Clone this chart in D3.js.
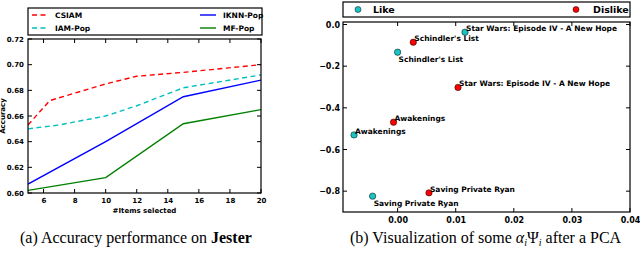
<!DOCTYPE html>
<html>
<head>
<meta charset="utf-8">
<script src="https://cdn.jsdelivr.net/npm/d3@7"></script>
<style>
  body { margin: 0; background: #fff; }
  svg { display: block; }
  .tick text { font-family: "DejaVu Sans", sans-serif; font-weight: bold; }
  .cap { font-family: "Liberation Serif", "Times New Roman", serif; font-size: 16px; }
</style>
</head>
<body>
<svg id="chart" width="640" height="253"></svg>
<script>
// Left panel: accuracy vs #items selected
const itemsCSIAM = [5, 6.4, 10, 12, 15, 20]
const accCSIAM = [0.653, 0.672, 0.685, 0.691, 0.694, 0.700]
const itemsIAM = [5, 7, 10, 12, 15, 20]
const accIAM = [0.650, 0.653, 0.660, 0.668, 0.682, 0.692]
const itemsIKNN = [5, 10, 15, 20]
const accIKNN = [0.607, 0.640, 0.675, 0.688]
const itemsMF = [5, 10, 15, 20]
const accMF = [0.602, 0.612, 0.654, 0.665]
const leftXTicks = [6, 8, 10, 12, 14, 16, 18, 20]
const leftYTicks = [0.60, 0.62, 0.64, 0.66, 0.68, 0.70, 0.72]

// Right panel: PCA projection
const movies = ["Star Wars: Episode IV - A New Hope", "Schindler's List", "Awakenings", "Saving Private Ryan"]
const likeX = [0.0116, 0.0000, -0.0075, -0.0043]
const likeY = [-0.037, -0.133, -0.530, -0.824]
const dislikeX = [0.0104, 0.0027, -0.0007, 0.0054]
const dislikeY = [-0.302, -0.085, -0.469, -0.808]
const likeBelow = [false, true, false, true]
const rightXTicks = [0.00, 0.01, 0.02, 0.03, 0.04]
const rightYTicks = [0.0, -0.2, -0.4, -0.6, -0.8]

const svg = d3.select("#chart")
const font = '"DejaVu Sans", sans-serif'

function innerTicks(g, x, y, xt, yt, w, h) {
  // matplotlib-style ticks pointing inwards on all four sides
  xt.forEach(function(t) {
    g.append("line").attr("x1", x(t)).attr("x2", x(t)).attr("y1", h).attr("y2", h - 4).attr("stroke", "#000")
    g.append("line").attr("x1", x(t)).attr("x2", x(t)).attr("y1", 0).attr("y2", 4).attr("stroke", "#000")
  })
  yt.forEach(function(t) {
    g.append("line").attr("x1", 0).attr("x2", 4).attr("y1", y(t)).attr("y2", y(t)).attr("stroke", "#000")
    g.append("line").attr("x1", w).attr("x2", w - 4).attr("y1", y(t)).attr("y2", y(t)).attr("stroke", "#000")
  })
}

// ---------- left ----------
const L = {left: 28, top: 39, w: 233, h: 154}
const gl = svg.append("g").attr("transform", "translate(" + L.left + "," + L.top + ")")
const xl = d3.scaleLinear().domain([5, 20]).range([0, L.w])
const yl = d3.scaleLinear().domain([0.60, 0.72]).range([L.h, 0])

gl.append("g").attr("transform", "translate(0," + L.h + ")")
  .call(d3.axisBottom(xl).tickValues(leftXTicks).tickSize(0).tickPadding(5).tickFormat(d3.format("d")))
  .call(g => g.select(".domain").remove())
  .selectAll("text").attr("font-size", 7)
gl.append("g")
  .call(d3.axisLeft(yl).tickValues(leftYTicks).tickSize(0).tickPadding(4).tickFormat(d3.format(".2f")))
  .call(g => g.select(".domain").remove())
  .selectAll("text").attr("font-size", 7)

const seriesL = [
  {name: "CSIAM", xs: itemsCSIAM, ys: accCSIAM, color: "#ff0000", dash: "5,3.5"},
  {name: "IAM-Pop", xs: itemsIAM, ys: accIAM, color: "#00bfbf", dash: "5,3.5"},
  {name: "IKNN-Pop", xs: itemsIKNN, ys: accIKNN, color: "#0000ff", dash: null},
  {name: "MF-Pop", xs: itemsMF, ys: accMF, color: "#008000", dash: null}
]
const line = d3.line().x(d => xl(d[0])).y(d => yl(d[1]))
gl.append("clipPath").attr("id", "clipL").append("rect").attr("width", L.w).attr("height", L.h)
seriesL.forEach(function(s) {
  gl.append("path")
    .datum(s.xs.map((v, i) => [v, s.ys[i]]))
    .attr("d", line)
    .attr("fill", "none")
    .attr("stroke", s.color)
    .attr("stroke-width", 1.4)
    .attr("stroke-dasharray", s.dash)
    .attr("clip-path", "url(#clipL)")
})
innerTicks(gl, xl, yl, leftXTicks, leftYTicks, L.w, L.h)
gl.append("rect").attr("width", L.w).attr("height", L.h).attr("fill", "none").attr("stroke", "#000").attr("stroke-width", 1.2)

gl.append("text").attr("x", L.w / 2).attr("y", L.h + 20).attr("text-anchor", "middle")
  .attr("font-family", font).attr("font-size", 7).attr("font-weight", "bold").text("#Items selected")
svg.append("text").attr("transform", "translate(5,116) rotate(-90)").attr("text-anchor", "middle")
  .attr("font-family", font).attr("font-size", 7).attr("font-weight", "bold").text("Accuracy")

// legend left
const legL = svg.append("g").attr("transform", "translate(28,8)")
legL.append("rect").attr("width", 234).attr("height", 27).attr("fill", "#fff").attr("stroke", "#000").attr("stroke-width", 1.2)
seriesL.forEach(function(s, i) {
  const lx = i < 2 ? 4 : 172
  const ly = i % 2 === 0 ? 7 : 20
  legL.append("line").attr("x1", lx).attr("x2", lx + 16).attr("y1", ly).attr("y2", ly)
    .attr("stroke", s.color).attr("stroke-width", 1.4).attr("stroke-dasharray", s.dash)
  legL.append("text").attr("x", lx + 23).attr("y", ly + 3).attr("font-family", font)
    .attr("font-size", 7.5).attr("font-weight", "bold").text(s.name)
})

svg.append("text").attr("class", "cap").attr("x", 20).attr("y", 243)
  .html('(a) Accuracy performance on <tspan font-weight="bold">Jester</tspan>')

// ---------- right ----------
const R = {left: 343, top: 22, w: 287, h: 190}
const gr = svg.append("g").attr("transform", "translate(" + R.left + "," + R.top + ")")
const xr = d3.scaleLinear().domain([-0.0094, 0.04]).range([0, R.w])
const yr = d3.scaleLinear().domain([-0.9, 0.012]).range([R.h, 0])

gr.append("g").attr("transform", "translate(0," + R.h + ")")
  .call(d3.axisBottom(xr).tickValues(rightXTicks).tickSize(0).tickPadding(5).tickFormat(d3.format(".2f")))
  .call(g => g.select(".domain").remove())
  .selectAll("text").attr("font-size", 8)
gr.append("g")
  .call(d3.axisLeft(yr).tickValues(rightYTicks).tickSize(0).tickPadding(3).tickFormat(d => d3.format(".1f")(d).replace("-", "\u2212")))
  .call(g => g.select(".domain").remove())
  .selectAll("text").attr("font-size", 8)

innerTicks(gr, xr, yr, rightXTicks, rightYTicks, R.w, R.h)
gr.append("rect").attr("width", R.w).attr("height", R.h).attr("fill", "none").attr("stroke", "#000").attr("stroke-width", 1.2)

const likeColor = "#1cc3c3"
const dislikeColor = "#ff0000"
function drawPoints(xs, ys, color, below) {
  xs.forEach(function(v, i) {
    const px = xr(v), py = yr(ys[i])
    gr.append("circle").attr("cx", px).attr("cy", py).attr("r", 3.2)
      .attr("fill", color).attr("stroke", "#000").attr("stroke-width", 0.5)
    gr.append("text").attr("x", px + 1).attr("y", below[i] ? py + 10 : py - 1)
      .attr("font-family", font).attr("font-size", 7.5).attr("font-weight", 600).text(movies[i])
  })
}
drawPoints(likeX, likeY, likeColor, likeBelow)
drawPoints(dislikeX, dislikeY, dislikeColor, [false, false, false, false])

// legend right
const legR = svg.append("g").attr("transform", "translate(343,2)")
legR.append("rect").attr("width", 287).attr("height", 15).attr("fill", "#fff").attr("stroke", "#000").attr("stroke-width", 1.2)
legR.append("circle").attr("cx", 15).attr("cy", 7.5).attr("r", 3).attr("fill", likeColor).attr("stroke", "#000").attr("stroke-width", 0.5)
legR.append("text").attr("x", 30).attr("y", 11).attr("font-family", font).attr("font-size", 9.5).attr("font-weight", "bold").text("Like")
legR.append("circle").attr("cx", 233).attr("cy", 7.5).attr("r", 3).attr("fill", dislikeColor).attr("stroke", "#000").attr("stroke-width", 0.5)
legR.append("text").attr("x", 250).attr("y", 11).attr("font-family", font).attr("font-size", 9.5).attr("font-weight", "bold").text("Dislike")

svg.append("text").attr("class", "cap").attr("x", 350).attr("y", 243)
  .html('(b) Visualization of some <tspan font-style="italic">\u03b1<tspan font-size="10" dy="3">i</tspan></tspan><tspan dy="-3">\u03a8</tspan><tspan font-style="italic" font-size="10" dy="3">i</tspan><tspan dy="-3"> after a PCA</tspan>')
</script>
</body>
</html>
